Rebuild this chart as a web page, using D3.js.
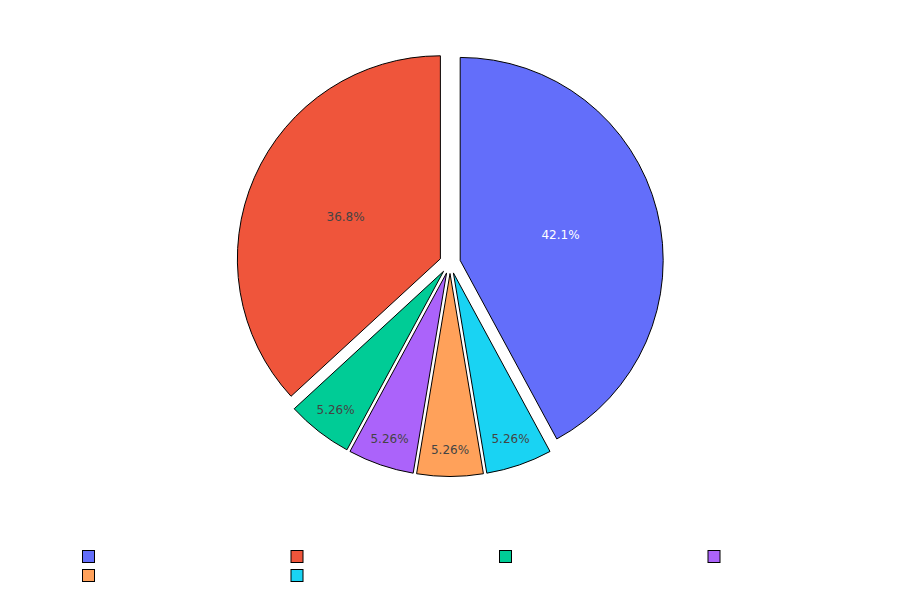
<!DOCTYPE html>
<html>
<head>
<meta charset="utf-8">
<script src="https://cdn.jsdelivr.net/npm/d3@7"></script>
<style>
  body { margin: 0; background: #fff; }
  text { font-family: "DejaVu Sans", verdana, arial, sans-serif; }
</style>
</head>
<body>
<div id="pie"></div>
<script>
// data, in legend order
var labels = ["", "", "", "", "", ""];
var values = [8, 7, 1, 1, 1, 1];
var colors = ["#636efa", "#EF553B", "#00cc96", "#ab63fa", "#FFA15A", "#19d3f3"];
var textColors = ["#fff", "#444", "#444", "#444", "#444", "#444"];

var width = 900, height = 600;
var cx = 450, cy = 263, radius = 203, pull = 10.5;

var svg = d3.select("#pie")
  .append("svg")
    .attr("width", width)
    .attr("height", height);

var total = d3.sum(values);
var start = values[0] / total * 2 * Math.PI;

// counterclockwise, first slice ending at 12 o'clock
var pie = d3.pie()
  .sort(null)
  .startAngle(start)
  .endAngle(start - 2 * Math.PI);

var arc = d3.arc()
  .innerRadius(0)
  .outerRadius(radius);

var arcs = pie(values);
var fmt = d3.format(".3")

var slices = svg.append("g")
  .attr("transform", "translate(" + cx + "," + cy + ")")
  .selectAll("g")
  .data(arcs)
  .enter()
  .append("g")
    .attr("transform", function(d) {
      var a = (d.startAngle + d.endAngle) / 2;
      return "translate(" + (Math.sin(a) * pull) + "," + (-Math.cos(a) * pull) + ")";
    });

slices.append("path")
  .attr("d", arc)
  .style("fill", function(d, i) { return colors[i]; })
  .attr("stroke", "#000")
  .attr("stroke-width", 1);

// percent text, big slices near the middle, thin ones pushed out
slices.append("text")
  .attr("transform", function(d) {
    var a = (d.startAngle + d.endAngle) / 2;
    var r = d.value / total > 0.2 ? radius * 0.51 : radius * 0.866;
    return "translate(" + (Math.sin(a) * r) + "," + (-Math.cos(a) * r) + ")";
  })
  .attr("text-anchor", "middle")
  .attr("dy", "0.35em")
  .style("font-size", "12px")
  .style("fill", function(d, i) { return textColors[i]; })
  .text(function(d) { return fmt(d.value / total * 100) + "%"; });

// legend, 4 per row
var legend = svg.append("g")
  .attr("transform", "translate(88.5,556.5)")
  .selectAll("g")
  .data(labels)
  .enter()
  .append("g")
    .attr("transform", function(d, i) {
      return "translate(" + ((i % 4) * 208.5) + "," + (Math.floor(i / 4) * 19) + ")";
    });

legend.append("rect")
  .attr("x", -6)
  .attr("y", -6)
  .attr("width", 12)
  .attr("height", 12)
  .style("fill", function(d, i) { return colors[i]; })
  .attr("stroke", "#000")
  .attr("stroke-width", 1);

legend.append("text")
  .attr("x", 14)
  .attr("dy", "0.35em")
  .style("font-size", "12px")
  .style("fill", "#444")
  .text(function(d) { return d; });
</script>
</body>
</html>
